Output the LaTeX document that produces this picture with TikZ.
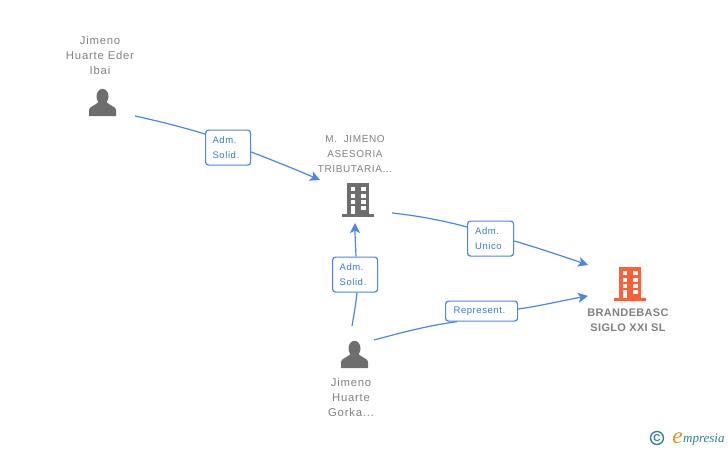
\documentclass[tikz,border=0pt]{standalone}
\usepackage{fontspec}
\setmainfont{Liberation Sans}
\newfontfamily\spaced[LetterSpace=6]{Liberation Sans}
\newfontfamily\spacedw[LetterSpace=7]{Liberation Sans}
\newfontfamily\spacedb[LetterSpace=3,BoldFont={Liberation Sans Bold}]{Liberation Sans}
\newfontfamily\logofont{Liberation Serif}
\usetikzlibrary{arrows.meta}
\definecolor{lnk}{HTML}{4A86E8}
\definecolor{lbltxt}{HTML}{3A78D8}
\definecolor{grt}{HTML}{808080}
\definecolor{icn}{HTML}{6E6E6E}
\definecolor{org}{HTML}{FF5F38}
\definecolor{teal}{HTML}{2F7F92}
\definecolor{logoorg}{HTML}{F28A1E}
\tikzset{
 x=1pt,y=-1pt,
 lnkline/.style={draw=lnk,line width=1.2pt},
 arrowed/.style={lnkline,-{Stealth[length=10pt,width=10pt,inset=2.5pt]}},
 rolebox/.style={draw=lnk,line width=1.2pt,rounded corners=3pt,fill=white,inner sep=0pt,anchor=north west,text=lbltxt,align=left,font=\spaced\fontsize{9.5}{15}\selectfont},
 nametext/.style={text=grt,align=center,inner sep=0pt,font=\spacedw\fontsize{11.3}{15}\selectfont},
 smallname/.style={text=grt,align=center,inner sep=0pt,font=\spaced\fontsize{10}{15}\selectfont},
 boldname/.style={text=grt,align=center,inner sep=0pt,font=\spacedb\bfseries\fontsize{11}{15}\selectfont},
 person/.pic={
  \fill[icn] (0,-19.5) circle[x radius=6,y radius=7.7];
  \fill[icn] (-13.5,0) -- (-13.5,-6) .. controls (-13.5,-9.5) and (-7,-10.5) .. (-4,-14) -- (4,-14) .. controls (7,-10.5) and (13.5,-9.5) .. (13.5,-6) -- (13.5,0) -- cycle;
 },
 pics/building/.style={code={
  \fill[#1] (-11,-32) rectangle (11,0);
  \fill[#1] (-16,-1) rectangle (16,2);
  \fill[white] (-7.5,-28) rectangle (-3,-24);
  \fill[white] (2.5,-28) rectangle (7.5,-24);
  \fill[white] (-7.5,-21.5) rectangle (-3,-17.5);
  \fill[white] (2.5,-21.5) rectangle (7.5,-17.5);
  \fill[white] (-7.5,-15.5) rectangle (-3,-11.5);
  \fill[white] (2.5,-15.5) rectangle (7.5,-11.5);
  \fill[white] (-7.5,-9) rectangle (-3,-1);
  \fill[white] (2.5,-9) rectangle (7.5,-5);
 }},
}
\begin{document}
\begin{tikzpicture}
\useasboundingbox (0,0) rectangle (728,450);
% icons
\pic at (102.5,116) {person};
\pic at (354.5,368) {person};
\pic at (358,215) {building=icn};
\pic at (630,299) {building=org};
% names
\node[nametext] (n1) at (100,55) {Jimeno\\Huarte Eder\\Ibai};
\node[smallname] (n2) at (355,154) {M.\ \ JIMENO\\ASESORIA\\TRIBUTARIA...};
\node[boldname] (n3) at (628,320) {BRANDEBASC\\SIGLO XXI SL};
\node[nametext] (n4) at (351,397) {Jimeno\\Huarte\\Gorka...};
% role boxes
\node[rolebox,minimum width=45pt,minimum height=35pt,text width=31pt,inner xsep=7pt] (b1) at (205,129.5) {Adm.\\Solid.};
\node[rolebox,minimum width=46pt,minimum height=35pt,text width=31pt,inner xsep=7.5pt] (b2) at (467,220.5) {Adm.\\Unico};
\node[rolebox,minimum width=45pt,minimum height=35pt,text width=31pt,inner xsep=7pt] (b3) at (332,256.5) {Adm.\\Solid.};
\node[rolebox,minimum width=72pt,minimum height=20pt,text width=56pt,inner xsep=8pt] (b4) at (445,300.5) {Represent.};
% connector ends
\coordinate (s1) at (135,116);
\coordinate (t1) at (320,180);
\coordinate (s2) at (392,213);
\coordinate (t2) at (588,265);
\coordinate (s3) at (352,326);
\coordinate (t3) at (355,223);
\coordinate (s4) at (374,340);
\coordinate (t4) at (588,296);
% connectors
\draw[lnkline] (s1) .. controls (158,121) and (182,127) .. (b1.west|-0,134);
\draw[arrowed] (b1.east|-0,152) .. controls (272,160) and (297,170) .. (t1);
\draw[lnkline] (s2) .. controls (420,216) and (445,221) .. (b2.west|-0,227);
\draw[arrowed] (b2.east|-0,241) .. controls (535,247) and (562,256) .. (t2);
\draw[lnkline] (s3) .. controls (354,315) and (356,302) .. (b3.south-|357,0);
\draw[arrowed] (b3.north-|356,0) .. controls (355.5,245) and (355,235) .. (t3);
\draw[lnkline] (s4) .. controls (400,333) and (430,325) .. (b4.south-|457,0);
\draw[arrowed] (b4.east|-0,309) .. controls (540,306) and (565,300) .. (t4);
% logo
\node[text=teal,inner sep=0pt,font=\bfseries\fontsize{10}{10}\selectfont,draw=teal,circle,line width=1.3pt,minimum size=13pt] (c) at (657,438) {C};
\node[text=logoorg,inner sep=0pt,font=\logofont\itshape\fontsize{23}{23}\selectfont] (e) at (677.5,438) {e};
\node[text=teal,inner sep=0pt,anchor=west,font=\logofont\itshape\fontsize{13}{13}\selectfont] (m) at (683,440) {mpresia};
\end{tikzpicture}
\end{document}
